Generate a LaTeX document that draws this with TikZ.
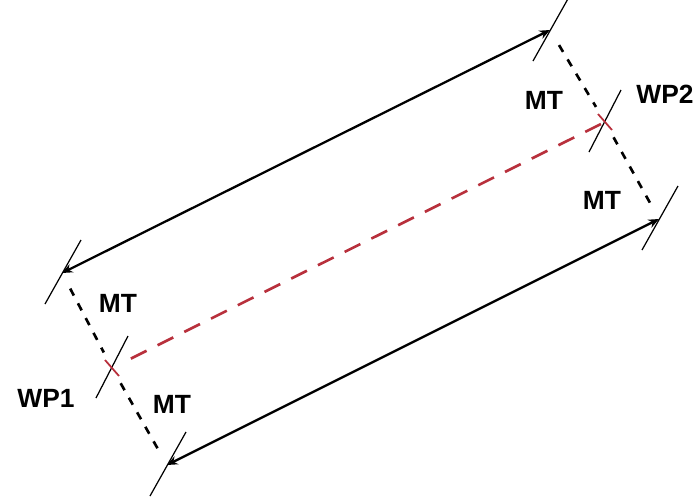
\documentclass[tikz,border=0pt]{standalone}
\usepackage{fontspec}
\setmainfont{Liberation Sans}
\usetikzlibrary{arrows.meta, calc}
\definecolor{wpred}{HTML}{B8303C}

\begin{document}
\begin{tikzpicture}[x=0.02cm, y=-0.02cm,
    dimline/.style={draw=black, line width=1.3pt, {Stealth[length=6pt,width=5pt]}-{Stealth[length=6pt,width=5pt]}},
    tickmark/.style={draw=black, line width=0.7pt},
    extline/.style={draw=black, line width=1.5pt, dash pattern=on 4.5pt off 5pt, shorten <=10pt, shorten >=10pt},
    centreline/.style={draw=wpred, line width=1.5pt, dash pattern=on 10pt off 7pt},
    lbl/.style={font=\fontsize{15}{15}\selectfont\bfseries, inner sep=0pt}]
  \useasboundingbox (0,0) rectangle (700,498);
  % corners and work points
  \coordinate (tl) at (62,273);
  \coordinate (tr) at (550,30);
  \coordinate (bl) at (167,465);
  \coordinate (br) at (659,219);
  \coordinate (wpa) at (112,368);
  \coordinate (wpb) at (605,122);
  % dimension lines
  \draw[dimline] (tl) -- (tr);
  \draw[dimline] (bl) -- (br);
  % extension lines through the work points
  \draw[extline] (tl) -- (wpa);
  \draw[extline] (wpa) -- (bl);
  \draw[extline] (tr) -- (wpb);
  \draw[extline] (wpb) -- (br);
  % centre line WP1 to WP2
  \draw[centreline, shorten <=12pt] (wpa) -- (wpb);
  % ticks
  \foreach \p in {tl, tr, bl, br}
    \draw[tickmark] ($(\p)+(19,-33)$) -- ($(\p)+(-17,31)$);
  \foreach \p in {wpa, wpb}
    \draw[tickmark] ($(\p)+(16,-32)$) -- ($(\p)+(-16,30)$);
  \foreach \p in {wpa, wpb}
    \draw[wpred, line width=1pt] ($(\p)+(-7,-8)$) -- ($(\p)+(7,8)$);
  % labels
  \node[lbl] (mtTL) at (118,303) {MT};
  \node[lbl] (mtBL) at (172,404) {MT};
  \node[lbl] (mtTR) at (544,100) {MT};
  \node[lbl] (mtBR) at (602,200) {MT};
  \node[lbl] (wpaText) at (46,398) {WP1};
  \node[lbl] (wpbText) at (665,94) {WP2};
\end{tikzpicture}
\end{document}
